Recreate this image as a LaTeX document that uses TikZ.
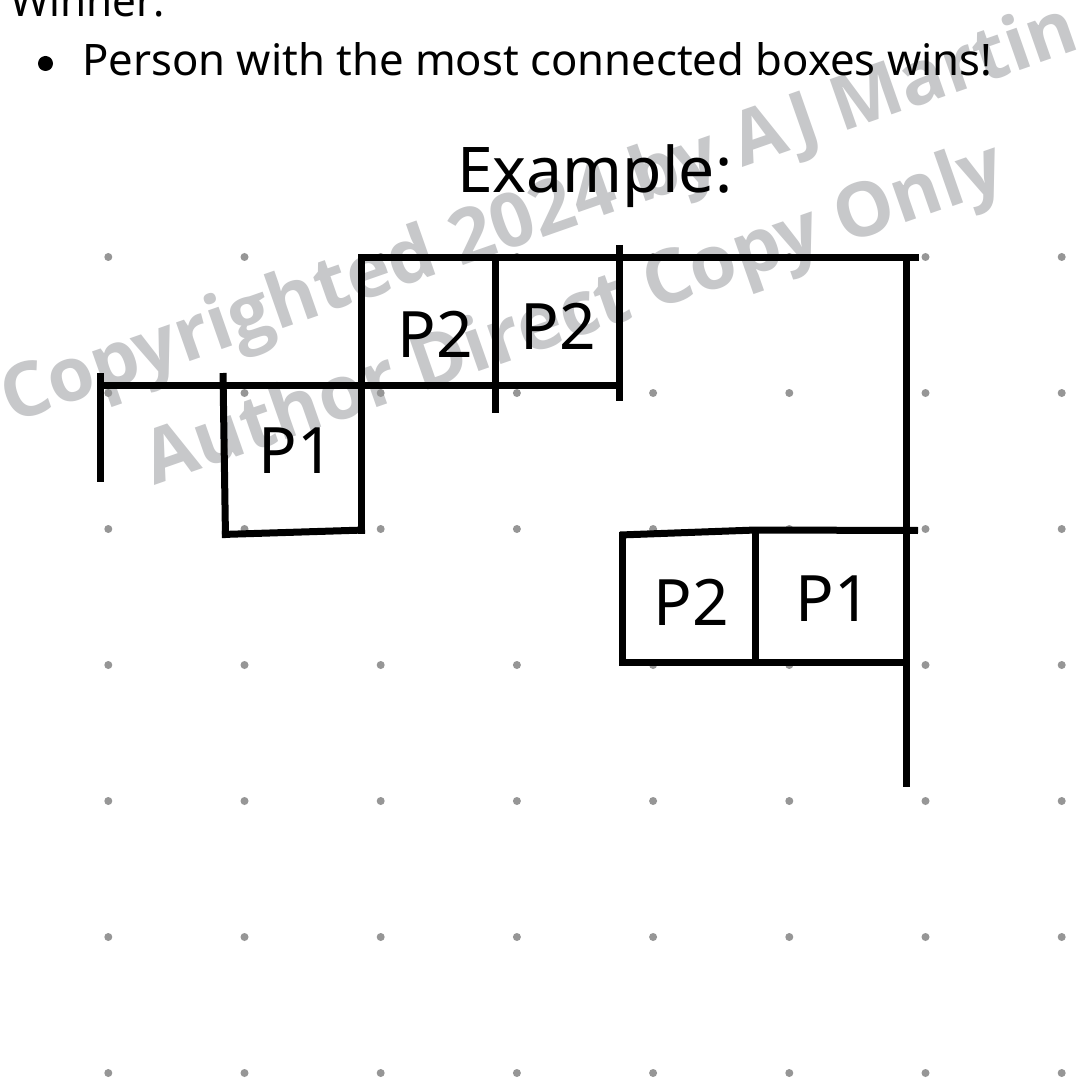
\documentclass[tikz,border=0pt]{standalone}
\usepackage{fontspec}
\usepackage{graphicx}
\setmainfont{Noto Sans}
\newfontfamily\wmfont{Open Sans}
\definecolor{wmgray}{RGB}{199,200,202}
\definecolor{dotgray}{RGB}{150,150,150}
\begin{document}
\begin{tikzpicture}[x=1pt,y=-1pt,
  seg/.style={line width=7pt, line cap=butt, draw=black},
  lbl/.style={anchor=base, inner sep=0pt, font=\fontsize{64}{70}\selectfont},
  wmtext/.style={rotate=19.3, anchor=base, inner sep=0pt, text=wmgray, font=\wmfont\bfseries\fontsize{75}{80}\selectfont},
  bodytext/.style={anchor=base west, inner sep=0pt, font=\fontsize{43.4}{50}\selectfont}]
\useasboundingbox (0,0) rectangle (1080,1078);
\fill[white] (0,0) rectangle (1080,1078);

% watermark
\node[wmtext] (wm1) at (547,236) {Copyrighted 2024 by AJ Martin};
\node[wmtext] (wm2) at (582,336) {Author Direct Copy Only};

% header text
\node[bodytext] (winner) at (10,17) {\resizebox{155pt}{\height}{Winner:}};
\fill[black] (45.5,63.5) circle (7.5pt);
\node[bodytext] (rule) at (82,76) {\resizebox{910pt}{\height}{Person with the most connected boxes wins!}};
\node[anchor=base west, inner sep=0pt, font=\fontsize{63}{70}\selectfont] (example) at (457,193) {\resizebox{275pt}{\height}{Example:}};

% dot grid
\foreach \i in {0,...,7}
  \foreach \j in {0,...,6}
    \fill[dotgray] (108.3+136.2*\i, 257+136*\j) circle (4pt);

% game lines
\draw[seg] (100.5,373) -- (100.5,482);
\draw[seg] (97,385) -- (619,385);
\draw[seg] (223,373) -- (225.5,538);
\draw[seg] (222,534.5) -- (365,530);
\draw[seg] (361.5,255) -- (361.5,534);
\draw[seg] (358,258) -- (919,258);
\draw[seg] (495.5,258) -- (495.5,413);
\draw[seg] (619,245) -- (619,401);
\draw[seg] (906,258) -- (906,787);
\draw[seg] (620,535) -- (756,530) -- (918,530.5);
\draw[seg] (622.7,531.5) -- (622.7,663);
\draw[seg] (619,662.7) -- (906,662.7);
\draw[seg] (755.5,530) -- (755.5,663);

% box labels
\node[lbl] (p1a) at (296.5,473) {P1};
\node[lbl] (p2a) at (435,358) {P2};
\node[lbl] (p2b) at (558.5,349) {P2};
\node[lbl] (p2c) at (691,625) {P2};
\node[lbl] (p1b) at (833,621) {P1};
\end{tikzpicture}
\end{document}
